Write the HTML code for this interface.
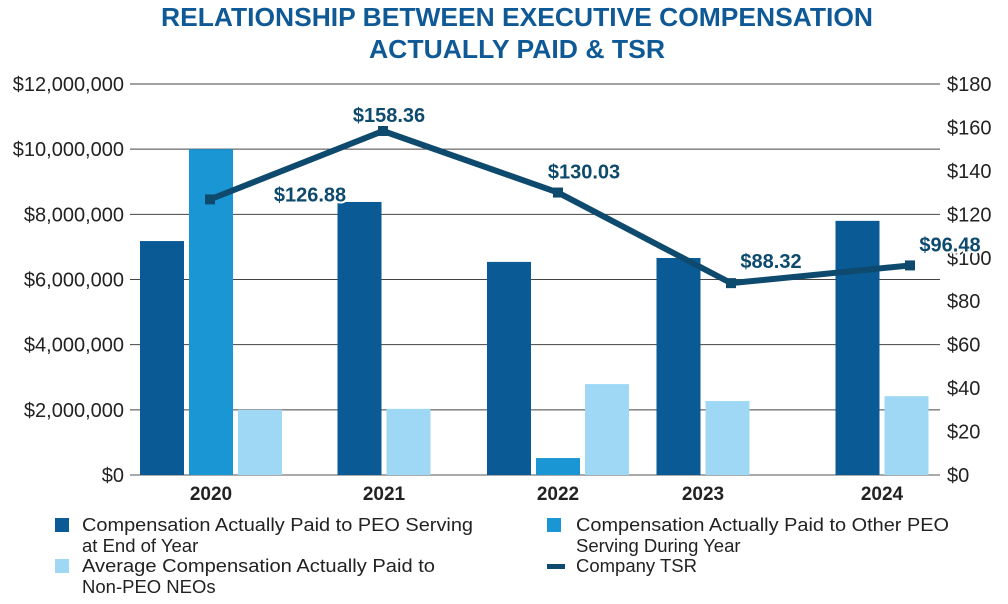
<!DOCTYPE html>
<html><head><meta charset="utf-8"><style>
body{margin:0;background:#fff;width:1008px;height:599px;overflow:hidden;font-family:"Liberation Sans",sans-serif}
</style></head><body>
<svg id="c" width="1008" height="599">
<text x="517" y="26" text-anchor="middle" font-size="26" font-weight="bold" fill="#0f5a96" textLength="712" lengthAdjust="spacingAndGlyphs">RELATIONSHIP BETWEEN EXECUTIVE COMPENSATION</text>
<text x="517" y="58" text-anchor="middle" font-size="26" font-weight="bold" fill="#0f5a96" textLength="296" lengthAdjust="spacingAndGlyphs">ACTUALLY PAID &amp; TSR</text>
<g id="grid"></g><g id="bars"></g><g id="line"></g><g id="labels"></g>
<g id="legend" font-size="18.5" fill="#222">
<rect x="55" y="518" width="14" height="14" fill="#0a5a96"/>
<text x="82" y="531" textLength="391" lengthAdjust="spacingAndGlyphs">Compensation Actually Paid to PEO Serving</text>
<text x="82" y="552">at End of Year</text>
<rect x="55" y="559" width="14" height="14" fill="#9ed8f5"/>
<text x="82" y="572" textLength="353" lengthAdjust="spacingAndGlyphs">Average Compensation Actually Paid to</text>
<text x="82" y="593">Non-PEO NEOs</text>
<rect x="547" y="518" width="14" height="14" fill="#1a96d4"/>
<text x="576" y="531" textLength="373" lengthAdjust="spacingAndGlyphs">Compensation Actually Paid to Other PEO</text>
<text x="576" y="552">Serving During Year</text>
<rect x="547" y="564" width="18" height="5" fill="#0d4a6e"/>
<text x="576" y="572">Company TSR</text>
</g>
</svg>
<script>
const years=["2020","2021","2022","2023","2024"];
const peoEnd=[7180000,8380000,6540000,6660000,7800000];
const otherPeo=[10000000,null,520000,null,null];
const neoAvg=[2000000,2030000,2790000,2270000,2420000];
const tsr=[126.88,158.36,130.03,88.32,96.48];
const leftTicks=[0,2000000,4000000,6000000,8000000,10000000,12000000];
const rightTicks=[0,20,40,60,80,100,120,140,160,180];
const NS="http://www.w3.org/2000/svg";
const groupX=[211,384,558,703,882];
const lineX=[210,383,558,731,910];
const y0=475,yTop=84,L=130,R=940;
const yL=v=>y0-(v/12000000)*(y0-yTop);
const yR=v=>y0-(v/180)*(y0-yTop);
function mk(tag,attrs,parent,txt){const e=document.createElementNS(NS,tag);for(const k in attrs)e.setAttribute(k,attrs[k]);if(txt!=null)e.textContent=txt;document.getElementById(parent).appendChild(e);return e;}
const fmt=v=>"$"+v.toLocaleString("en-US");
leftTicks.forEach(t=>{const g=mk("line",{x1:L,x2:R,y1:yL(t),y2:yL(t),stroke:t===0?"#555":"#444","stroke-width":1},"grid");


const tx=mk("text",{x:124,y:yL(t)+7,"text-anchor":"end","font-size":20,fill:"#222"},"grid",fmt(t));

});
rightTicks.forEach(t=>{const tx=mk("text",{x:947,y:yR(t)+7,"font-size":20,fill:"#222"},"grid","$"+t);

});
const bw=44,gap=5;
years.forEach((yr,i)=>{
 const series=[[peoEnd[i],"#0a5a96","bar-peo-end"],[otherPeo[i],"#1a96d4","bar-other-peo"],[neoAvg[i],"#9ed8f5","bar-neo-avg"]].filter(s=>s[0]!=null);
 const tw=series.length*bw+(series.length-1)*gap;
 let x=groupX[i]-tw/2;
 series.forEach(s=>{const r=mk("rect",{x:x,y:yL(s[0]),width:bw,height:y0-yL(s[0]),fill:s[1]},"bars");
 
 
 x+=bw+gap;});
 const tl=mk("text",{x:groupX[i],y:500,"text-anchor":"middle","font-size":19,"font-weight":"bold",fill:"#222"},"labels",yr);
 
 
});
const pts=tsr.map((v,i)=>lineX[i]+","+yR(v)).join(" ");
const pl=mk("polyline",{points:pts,fill:"none",stroke:"#0d4a6e","stroke-width":6,"stroke-linejoin":"round"},"line");


const off=[[100,2],[6,-9],[26,-14],[40,-15],[40,-14]];
tsr.forEach((v,i)=>{const m=mk("rect",{x:lineX[i]-5,y:yR(v)-5,width:10,height:10,fill:"#0d4a6e"},"line");


const t=mk("text",{x:lineX[i]+off[i][0],y:yR(v)+off[i][1],"text-anchor":"middle","font-size":20,"font-weight":"bold",fill:"#0d4a6e",stroke:"#fff","stroke-width":4,"paint-order":"stroke"},"labels","$"+v.toFixed(2));

});
</script>
</body></html>
